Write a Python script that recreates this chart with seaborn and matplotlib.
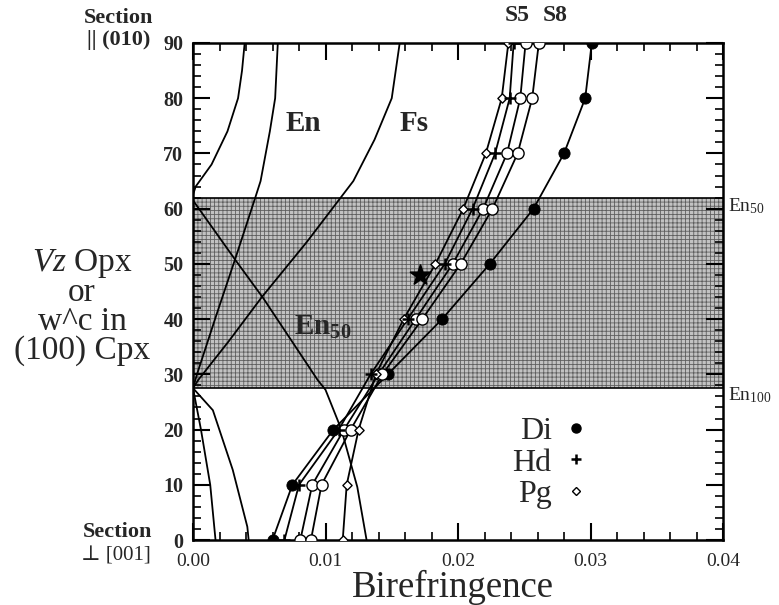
import numpy as np
import pandas as pd
import matplotlib
matplotlib.use("Agg")
import matplotlib.pyplot as plt
from matplotlib.lines import Line2D
from matplotlib.ticker import MultipleLocator, FormatStrFormatter
import seaborn as sns

# ---- data -------------------------------------------------------------
angle = [0, 10, 20, 30, 40, 50, 60, 70, 80, 90]

di = [0.0060, 0.0075, 0.0106, 0.0147, 0.0188, 0.0224, 0.0257, 0.0280, 0.0296, 0.0301]
hd = [0.0069, 0.0080, 0.0110, 0.0134, 0.0162, 0.0190, 0.0211, 0.0228, 0.0239, 0.0242]
s5 = [0.0081, 0.0090, 0.0114, 0.0140, 0.0168, 0.0196, 0.0219, 0.0237, 0.0247, 0.0251]
s8 = [0.0089, 0.0097, 0.0119, 0.0143, 0.0173, 0.0202, 0.0226, 0.0245, 0.0256, 0.0261]
pg = [0.0113, 0.0116, 0.0125, 0.0138, 0.0159, 0.0183, 0.0204, 0.0221, 0.0233, 0.0238]

star_x, star_y = [0.0171], [48]

# orthopyroxene birefringence curves (x = birefringence, y = angle)
en_top_x = [0.0039, 0.0037, 0.0034, 0.0026, 0.0014, 0.0002, 0.0]
en_top_y = [90, 85, 80, 74, 68, 64, 62.5]
en_mid_x = [0.0064, 0.0062, 0.0058, 0.0051, 0.0047, 0.0032, 0.0018, 0.0003, 0.0]
en_mid_y = [90, 80, 74, 65, 62, 51, 41, 30, 27.5]
fs_x = [0.0156, 0.0150, 0.0137, 0.0121, 0.0086, 0.0052, 0.0027, 0.0004, 0.0]
fs_y = [90, 80, 72.5, 65, 54, 44, 36, 29, 27.5]
en50_x = [0.0, 0.0032, 0.0053, 0.0094, 0.0100, 0.0112, 0.0124, 0.0131]
en50_y = [61.5, 50.7, 43.8, 29, 27.2, 20, 9.6, 0]
low1_x = [0.0, 0.0006, 0.0013, 0.0017]
low1_y = [27.5, 20, 10, 0]
low2_x = [0.0, 0.0015, 0.0030, 0.0041, 0.0042]
low2_y = [27.5, 23.5, 12.7, 2.4, 0]

band_lo, band_hi = 27.5, 62.0

# ---- style ------------------------------------------------------------
sns.set_style("ticks")
serif = ["Liberation Serif", "DejaVu Serif"]
plt.rcParams["font.family"] = serif
plt.rcParams["mathtext.fontset"] = "custom"
plt.rcParams["mathtext.rm"] = "Liberation Serif"
plt.rcParams["mathtext.it"] = "Liberation Serif:italic"
plt.rcParams["mathtext.bf"] = "Liberation Serif:bold"
plt.rcParams["hatch.linewidth"] = 0.6

W, H = 779, 605
fig = plt.figure(figsize=(W / 100, H / 100), dpi=100)
L, R, T, B = 193, 723, 43, 540
ax = fig.add_axes([L / W, 1 - B / H, (R - L) / W, (B - T) / H])

# shaded composition band
ax.axhspan(band_lo, band_hi, facecolor="#c2c2c2", edgecolor="#5f5f5f",
           hatch="++++", linewidth=0, zorder=0)
ax.axhline(band_lo, color="k", lw=1.2, zorder=1)
ax.axhline(band_hi, color="k", lw=1.2, zorder=1)

line_kw = dict(color="black", lw=1.3, sort=False, estimator=None, ax=ax, legend=False)
for xs, ys in [(en_top_x, en_top_y), (en_mid_x, en_mid_y), (fs_x, fs_y),
               (en50_x, en50_y), (low1_x, low1_y), (low2_x, low2_y)]:
    sns.lineplot(x=xs, y=ys, **line_kw)

for xs in [pg, hd, s5, s8, di]:
    sns.lineplot(x=xs, y=angle, **line_kw)

sc_kw = dict(ax=ax, legend=False, zorder=4)
sns.scatterplot(x=di, y=angle, marker="o", s=65, color="black", edgecolor="black", **sc_kw)
sns.scatterplot(x=s5, y=angle, marker="o", s=65, color="white", edgecolor="black", linewidth=1.0, **sc_kw)
sns.scatterplot(x=s8, y=angle, marker="o", s=65, color="white", edgecolor="black", linewidth=1.0, **sc_kw)
sns.scatterplot(x=pg, y=angle, marker="D", s=22, color="white", edgecolor="black", linewidth=1.0, **sc_kw)
sns.scatterplot(x=hd, y=angle, marker="+", s=70, color="black", linewidth=1.8, **sc_kw)
sns.scatterplot(x=star_x, y=star_y, marker="*", s=230, color="black", edgecolor="black", **sc_kw)

# ---- axes ---------------------------------------------------------------
ax.set_xlim(0, 0.04)
ax.set_ylim(0, 90)
ax.xaxis.set_major_locator(MultipleLocator(0.01))
ax.xaxis.set_minor_locator(MultipleLocator(0.002))
ax.xaxis.set_major_formatter(FormatStrFormatter("%.2f"))
ax.yaxis.set_major_locator(MultipleLocator(10))
ax.yaxis.set_minor_locator(MultipleLocator(2))
ax.tick_params(which="both", direction="in", top=True, right=True, color="black")
ax.tick_params(which="major", length=12, width=1.5)
ax.tick_params(which="minor", length=6, width=1.2)
ax.tick_params(axis="x", labelsize=14, pad=9)
ax.tick_params(axis="y", labelsize=14.5, pad=7)
for lbl in ax.get_yticklabels():
    lbl.set_fontweight("bold")
for sp in ax.spines.values():
    sp.set_linewidth(1.8)
    sp.set_color("black")
ax.set_xlabel("")
ax.set_ylabel("")

# curve labels
ax.text(0.0083, 75.5, "En", fontsize=21, fontweight="bold", ha="center", va="center")
ax.text(0.0167, 75.5, "Fs", fontsize=21, fontweight="bold", ha="center", va="center")
ax.text(0.0098, 38.5, r"En$_{\mathbf{50}}$", fontsize=21, fontweight="bold", ha="center", va="center")
ax.text(0.02445, 93.0, "S5", fontsize=17, fontweight="bold", ha="center", va="bottom", clip_on=False)
ax.text(0.0273, 93.0, "S8", fontsize=17, fontweight="bold", ha="center", va="bottom", clip_on=False)
ax.text(0.0404, band_hi - 1.5, r"En$_{50}$", fontsize=14, ha="left", va="center", clip_on=False)
ax.text(0.0404, band_lo - 1.2, r"En$_{100}$", fontsize=14, ha="left", va="center", clip_on=False)

# legend
handles = [
    Line2D([], [], ls="", marker="o", markersize=6.5, color="black"),
    Line2D([], [], ls="", marker="+", markersize=7, color="black", markeredgewidth=1.8),
    Line2D([], [], ls="", marker="D", markersize=4.5, markerfacecolor="white",
           markeredgecolor="black", markeredgewidth=1.0),
]
ax.legend(handles, ["Di", "Hd", "Pg"], loc="center right", bbox_to_anchor=(0.776, 0.155),
          markerfirst=False, frameon=False, fontsize=23, handlelength=0.8,
          handletextpad=0.35, labelspacing=0.07, borderpad=0)

# axis titles
fig.text(453 / W, 1 - 587 / H, "Birefringence", fontsize=26.5, ha="center", va="center")
ylab = [r"$\mathit{Vz}$ Opx", "or", "w^c in", "(100) Cpx"]
for i, s in enumerate(ylab):
    fig.text(82 / W, 1 - (264 + 29 * i) / H, s, fontsize=24, ha="center", va="center")

fig.text(119 / W, 1 - 18 / H, "Section", fontsize=16, fontweight="bold", ha="center", va="center")
fig.text(119 / W, 1 - 40 / H, "|| (010)", fontsize=16, fontweight="bold", ha="center", va="center")
fig.text(118 / W, 1 - 532 / H, "Section", fontsize=16, fontweight="bold", ha="center", va="center")
fig.text(116 / W, 1 - 556 / H, "\u22a5 [001]", fontsize=15, ha="center", va="center")

fig.savefig("out.png", dpi=100)
